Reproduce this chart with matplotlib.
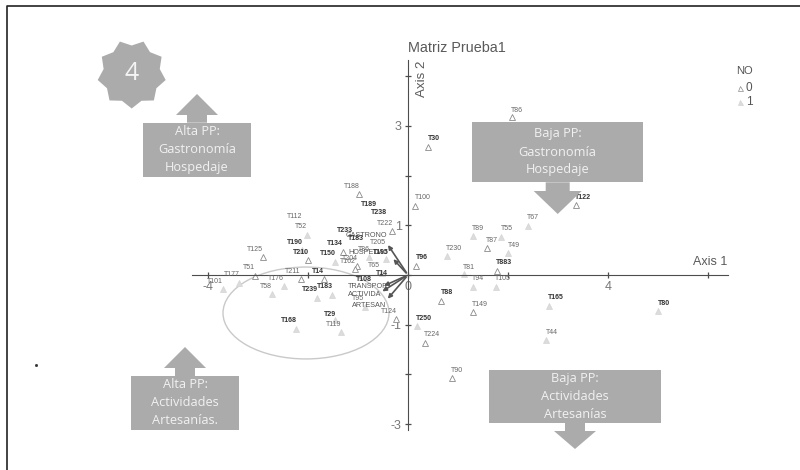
import matplotlib
matplotlib.use("Agg")
import matplotlib.pyplot as plt
import numpy as np
from matplotlib.patches import Ellipse, Polygon, Rectangle

# open triangles (NO = 0)
names0 = ["T188", "T100", "T86", "T30", "T122", "T87", "T96", "T883", "T88", "T149", "T224", "T90",
          "T222", "T210", "T125", "T51", "T211", "T14", "T134", "T204", "T162", "T124"]
x0 = [-0.99, 0.14, 2.07, 0.39, 3.36, 1.57, 0.16, 1.78, 0.65, 1.30, 0.33, 0.88,
      -0.32, -2.01, -2.91, -3.06, -2.15, -1.69, -1.31, -1.03, -1.06, -0.24]
y0 = [1.63, 1.39, 3.18, 2.58, 1.41, 0.54, 0.19, 0.09, -0.52, -0.75, -1.36, -2.08,
      0.88, 0.30, 0.36, -0.02, -0.09, -0.09, 0.47, 0.18, 0.12, -0.89]
dx0 = [-7, 8, 5, 6, 7, 5, 6, 7, 7, 7, 7, 5, -7, -7, -8, -6, -8, -6, -8, -7, -7, -7]
dy0 = [8, 8, 7, 8, 7, 8, 8, 8, 8, 8, 8, 8, 8, 8, 8, 8, 8, 8, 8, 8, 8, 8]
bold0 = ["T30", "T122", "T96", "T883", "T88", "T210", "T14", "T134"]

# light filled triangles (NO = 1)
names1 = ["T67", "T89", "T55", "T49", "T230", "T81", "T94", "T105", "T165", "T80", "T250", "T44",
          "T52", "T190", "T177", "T101", "T176", "T58", "T239", "T183", "T168", "T29", "T119",
          "T150", "T86", "T195", "T65", "T95"]
x1 = [2.40, 1.30, 1.85, 2.00, 0.78, 1.12, 1.29, 1.76, 2.82, 4.99, 0.17, 2.75,
      -2.03, -2.13, -3.38, -3.71, -2.48, -2.73, -1.83, -1.53, -2.25, -1.46, -1.34,
      -1.47, -0.79, -0.45, -0.53, -0.86]
y1 = [0.99, 0.79, 0.77, 0.44, 0.38, 0.02, -0.24, -0.24, -0.62, -0.73, -1.03, -1.31,
      0.81, 0.50, -0.16, -0.29, -0.23, -0.39, -0.46, -0.40, -1.08, -0.91, -1.15,
      0.27, 0.36, 0.32, 0.05, -0.64]
dx1 = [5, 5, 6, 6, 7, 5, 5, 7, 7, 7, 7, 6, -6, -7, -7, -8, -8, -6, -7, -7, -7, -5, -7, -7, -5, -5, -8, -7]
dy1 = [8, 7, 8, 8, 8, 7, 8, 8, 8, 8, 8, 8, 8, 8, 8, 8, 8, 8, 8, 8, 8, 6, 8, 8, 8, 7, 7, 8]
bold1 = ["T165", "T80", "T250", "T190", "T239", "T183", "T168", "T29", "T150", "T195"]

# labels with no triangle showing
names2 = ["T112", "T189", "T238", "T233", "T183", "T205", "T14", "T108"]
x2 = [-2.26, -0.79, -0.58, -1.26, -1.05, -0.61, -0.53, -0.88]
y2 = [1.18, 1.42, 1.26, 0.89, 0.74, 0.65, 0.04, -0.09]
bold2 = ["T189", "T238", "T233", "T183", "T14", "T108"]

# variable vectors
vars_ = ["GASTRONO", "HOSPEDAJ", "TRANSPOR", "ACTIVIDA", "ARTESAN"]
var_x = [-0.43, -0.33, -0.53, -0.56, -0.44]
var_y = [0.65, 0.36, -0.24, -0.36, -0.52]
var_lx = [-0.83, -0.81, -0.80, -0.86, -0.78]
var_ly = [0.79, 0.45, -0.24, -0.40, -0.62]

ellipse_c = (-2.04, -0.765)
ellipse_w, ellipse_h = 3.32, 1.85

x_ticks = [-4, -2, 0, 2, 4, 6]
x_labels = ["-4", "", "0", "", "4", ""]
y_ticks = [-3, -2, -1, 0, 1, 2, 3, 4]
y_labels = ["-3", "", "-1", "", "1", "", "3", ""]

plt.rcParams["font.family"] = ["Liberation Sans", "DejaVu Sans"]
BOX = "#ababab"
BOXTXT = "#f1f1f1"
AXC = "#4d4d4d"
BOXFONT = ["Open Sans", "DejaVu Sans"]

fig = plt.figure(figsize=(8, 4.7), dpi=100)
ax = fig.add_axes([0, 0, 1, 1])
ax.set_xlim(-408 / 50, 392 / 50)
ax.set_ylim(-195 / 49.67, 275 / 49.67)
ax.patch.set_visible(False)

for s in ["top", "right"]:
    ax.spines[s].set_visible(False)
ax.spines["left"].set_position("zero")
ax.spines["bottom"].set_position("zero")
ax.spines["left"].set_bounds(-3.12, 4.33)
ax.spines["bottom"].set_bounds(-4.32, 6.4)
ax.spines["left"].set_color(AXC)
ax.spines["bottom"].set_color(AXC)
ax.set_xticks(x_ticks, x_labels)
ax.set_yticks(y_ticks, y_labels)
ax.tick_params(axis="both", direction="inout", length=5, width=0.9, color=AXC,
               labelcolor="#777777", labelsize=9, pad=2)

ax.add_patch(Ellipse(ellipse_c, ellipse_w, ellipse_h, fill=False, ec="#c9c9c9", lw=1))

for vx, vy, lx, ly, v in zip(var_x, var_y, var_lx, var_ly, vars_):
    ax.annotate("", xy=(vx, vy), xytext=(0, 0),
                arrowprops=dict(arrowstyle="-|>", color="#555555", lw=1.2, mutation_scale=6))
    ax.text(lx, ly, v, fontsize=5.2, color="#555555", ha="center", va="center")

ax.plot(x0, y0, ls="", marker="^", ms=4.8, mfc="white", mec="#8a8a8a", mew=0.6)
ax.plot(x1, y1, ls="", marker="^", ms=4.8, mfc="#dcdcdc", mec="#d4d4d4", mew=0.5)


def point_labels(names, xs, ys, dxs, dys, bold):
    for n, px, py, dx, dy in zip(names, xs, ys, dxs, dys):
        b = n in bold
        ax.annotate(n, (px, py), xytext=(dx, dy), textcoords="offset pixels", ha="center", va="center",
                    fontsize=5, color="#333333" if b else "#666666",
                    fontweight="bold" if b else "normal")


point_labels(names0, x0, y0, dx0, dy0, bold0)
point_labels(names1, x1, y1, dx1, dy1, bold1)
for n, px, py in zip(names2, x2, y2):
    b = n in bold2
    ax.text(px, py, n, fontsize=5, ha="center", va="center",
            color="#333333" if b else "#666666", fontweight="bold" if b else "normal")

# overlay in pixel coords for the pasted callouts and frame
ov = fig.add_axes([0, 0, 1, 1])
ov.set_xlim(0, 800)
ov.set_ylim(470, 0)
ov.axis("off")
ov.patch.set_visible(False)


def callout(x0_, x1_, y0_, y1_, cx, shaft, head, neck, tip, lines):
    ov.add_patch(Rectangle((x0_, y0_), x1_ - x0_, y1_ - y0_, fc=BOX, ec="none", zorder=3))
    base = y0_ if tip < y0_ else y1_
    ov.add_patch(Polygon([(cx - shaft, base), (cx - shaft, neck), (cx - head, neck), (cx, tip),
                          (cx + head, neck), (cx + shaft, neck), (cx + shaft, base)],
                         fc=BOX, ec="none", zorder=3))
    yc = (y0_ + y1_) / 2
    for i, t in enumerate(lines):
        ov.text((x0_ + x1_) / 2, yc + (i - 1) * 18, t, color=BOXTXT, fontsize=9.2, family=BOXFONT,
                ha="center", va="center", zorder=4)


callout(143, 251, 122.7, 176.7, 197, 10, 21, 115, 94, ["Alta PP:", "Gastronomía", "Hospedaje"])
callout(472, 643, 121.7, 182.3, 557.7, 12, 24, 191, 214, ["Baja PP:", "Gastronomía", "Hospedaje"])
callout(131, 239, 376, 430, 185, 10, 21, 368, 347, ["Alta PP:", "Actividades", "Artesanías."])
callout(489, 661, 370, 422.7, 575, 10, 21, 431, 449, ["Baja PP:", "Actividades", "Artesanías"])

# badge, one point straight down
n_pts = 9
ang = np.linspace(0, 2 * np.pi, 2 * n_pts, endpoint=False) + np.pi / 2
rad = np.where(np.arange(2 * n_pts) % 2 == 0, 34.5, 28.5)
ov.add_patch(Polygon(np.column_stack([131.7 + rad * np.cos(ang), 74 + rad * np.sin(ang)]),
                     fc=BOX, ec="none", zorder=3))
ov.text(131.7, 73.5, "4", color="#f4f4f4", fontsize=18, family=BOXFONT, ha="center", va="center", zorder=4)

ov.text(408, 48, "Matriz Prueba1", fontsize=10.4, color="#5a5a5a", ha="left", va="center")
ov.text(693, 262, "Axis 1", fontsize=9, color="#5a5a5a", ha="left", va="center")
ov.text(422, 79, "Axis 2", fontsize=9.6, color="#5a5a5a", rotation=90, ha="center", va="center")

# legend
ov.text(736, 71, "NO", fontsize=8, color="#555555", ha="left", va="center")
ov.plot([740], [88], ls="", marker="^", ms=3.6, mfc="white", mec="#8a8a8a", mew=0.5)
ov.plot([740], [102], ls="", marker="^", ms=3.6, mfc="#dcdcdc", mec="#d4d4d4", mew=0.5)
ov.text(746, 88, "0", fontsize=8.5, color="#555555", ha="left", va="center")
ov.text(746, 102, "1", fontsize=8.5, color="#555555", ha="left", va="center")

# frame of the scanned page
ov.plot([800, 6.5, 6.5], [6, 6, 470], color="#222222", lw=1.2, clip_on=False)
ov.plot([36], [365], ls="", marker="s", ms=1, color="#333333")

fig.savefig("out.png", dpi=100)
